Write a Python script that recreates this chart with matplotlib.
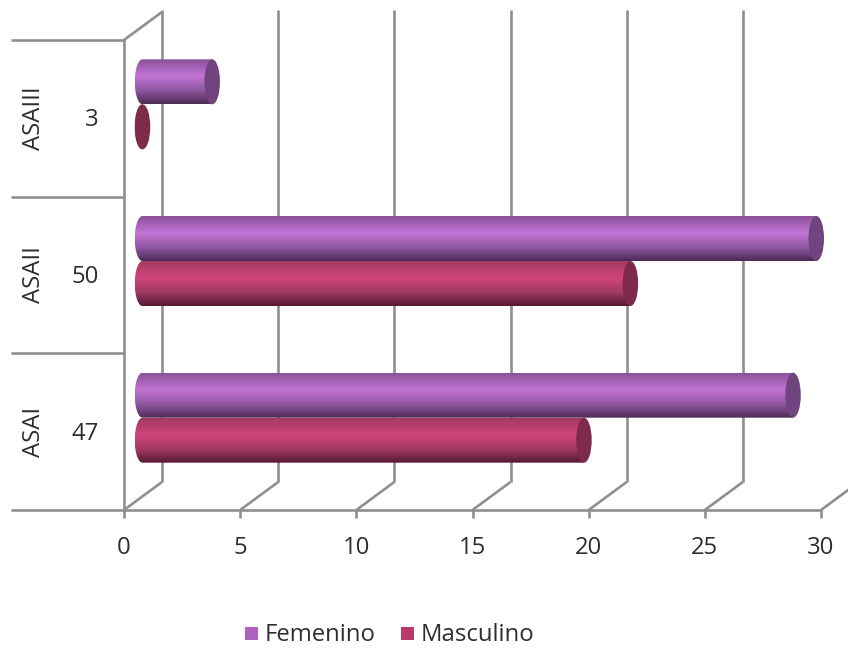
import numpy as np
import matplotlib
matplotlib.use("Agg")
import matplotlib.pyplot as plt
from matplotlib.colors import LinearSegmentedColormap
from matplotlib.patches import Ellipse, PathPatch, Rectangle
from matplotlib.path import Path

categories = ["ASAI", "ASAII", "ASAIII"]
totals = [47, 50, 3]
femenino = [28, 29, 3]
masculino = [19, 21, 0]
x_ticks = [0, 5, 10, 15, 20, 25, 30]

W, H = 848, 648
LEFT, RIGHT, BOTTOM, TOP = 124, 821, 510, 40
GREY = "#8f8f8f"
FONT = 17.2
plt.rcParams["font.family"] = ["Open Sans", "DejaVu Sans"]
TEXT = "#2e2e2e"

fig = plt.figure(figsize=(W / 100, H / 100), dpi=100, facecolor="white")
ax = fig.add_axes([LEFT / W, 1 - BOTTOM / H, (RIGHT - LEFT) / W, (BOTTOM - TOP) / H])
ax.set_xlim(0, 30)
ax.set_ylim(0, 3)
ax.patch.set_visible(False)

# size of one pixel in data units
dx = 30 / (RIGHT - LEFT)
dy = 3 / (BOTTOM - TOP)

line = dict(color=GREY, lw=1.9, clip_on=False, solid_capstyle="butt", solid_joinstyle="miter")

# axes
for side in ("top", "right"):
    ax.spines[side].set_visible(False)
for side in ("left", "bottom"):
    ax.spines[side].set_color(GREY)
    ax.spines[side].set_linewidth(1.9)
ax.set_xticks(x_ticks)
ax.set_xticklabels([str(v) for v in x_ticks], fontsize=FONT, color=TEXT)
ax.tick_params(axis="x", length=5.5, width=1.9, color=GREY, pad=13)
ax.set_yticks([])

# floor diagonals and back-wall gridlines
depth_x, depth_y = 38 * dx, 28 * dy
for v in x_ticks:
    ax.plot([v, v + depth_x], [0, depth_y], **line)
    ax.plot([v + depth_x] * 2, [depth_y, 3 + 30 * dy], **line)
ax.plot([0, depth_x], [3, 3 + 28 * dy], **line)

# category table at the left of the axis
trans = ax.get_yaxis_transform()
for k in range(4):
    ax.plot([-113 / (RIGHT - LEFT), 0], [k, k], transform=trans, **line)
for k, (name, total) in enumerate(zip(categories, totals)):
    ax.text(-90 * dx, k + 0.5, name, rotation=90, ha="center", va="center",
            fontsize=FONT, color=TEXT, clip_on=False)
    ax.text(-25 * dx, k + 0.5 - 2 * dy, str(total), ha="right", va="center",
            fontsize=FONT, color=TEXT, clip_on=False)

fem_cmap = LinearSegmentedColormap.from_list(
    "fem", [(0, "#8b5298"), (0.38, "#c274d6"), (0.7, "#8e569f"), (0.93, "#5c3468"), (1, "#4a2a55")])
mas_cmap = LinearSegmentedColormap.from_list(
    "mas", [(0, "#a33a62"), (0.38, "#d1467a"), (0.7, "#a03a60"), (0.93, "#661f3e"), (1, "#54192f")])
ramp = np.linspace(0, 1, 256).reshape(-1, 1)

# cylinder bars, shifted into the depth of the plot
bar_h = 45 * dy
cap_w = 15.5 * dx
start = 18.5 * dx
lift = 14 * dy


def cylinder(value, y_low, cmap, cap):
    x0, x1 = start, start + value
    theta = np.linspace(np.pi / 2, 3 * np.pi / 2, 40)
    yc = y_low + bar_h / 2
    arc = np.column_stack([x0 + cap_w / 2 * np.cos(theta), yc + bar_h / 2 * np.sin(theta)])
    verts = np.vstack([[x1, y_low + bar_h], arc, [x1, y_low], [x1, y_low + bar_h]])
    outline = Path(verts)
    im = ax.imshow(ramp, cmap=cmap, extent=[x0 - cap_w / 2, x1, y_low, y_low + bar_h],
                   aspect="auto", origin="upper", zorder=3, interpolation="bilinear")
    im.set_clip_path(PathPatch(outline, transform=ax.transData))
    ax.add_patch(Ellipse((x1, yc), cap_w, bar_h, facecolor=cap, edgecolor="none",
                         zorder=4, clip_on=False))


for k in range(len(categories)):
    centre = k + 0.5 + lift
    cylinder(masculino[k], centre - bar_h, mas_cmap, "#7d2a4b")
    cylinder(femenino[k], centre, fem_cmap, "#70447f")

ax.set_xlim(0, 30)
ax.set_ylim(0, 3)

# legend
legend_items = [("Femenino", "#ad63bd", 245), ("Masculino", "#b83a68", 401)]
for label, colour, px in legend_items:
    fig.add_artist(Rectangle((px / W, 1 - 640 / H), 13 / W, 13 / H, transform=fig.transFigure,
                             facecolor=colour, edgecolor="none"))
    fig.text((px + 20) / W, 1 - 635 / H, label, fontsize=FONT, color=TEXT, ha="left", va="center")

fig.savefig("out.png", dpi=100, facecolor="white")
